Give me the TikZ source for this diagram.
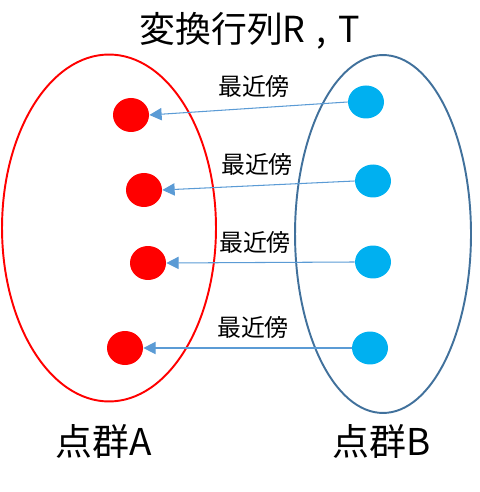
\documentclass[tikz,border=0pt]{standalone}
\usepackage{fontspec}
\setmainfont{Noto Sans CJK JP}
\usepackage{tikz}
\usetikzlibrary{arrows.meta, positioning, shapes.geometric}
\definecolor{ptred}{HTML}{FF0000}
\definecolor{ptblue}{HTML}{00B0F0}
\definecolor{setblue}{HTML}{41719C}
\definecolor{nnblue}{HTML}{5B9BD5}

\begin{document}
\begin{tikzpicture}[x=0.02cm, y=-0.02cm,
    dotA/.style={ellipse, fill=ptred, minimum width=0.72cm, minimum height=0.68cm, inner sep=0pt},
    dotB/.style={ellipse, fill=ptblue, minimum width=0.72cm, minimum height=0.66cm, inner sep=0pt},
    nnarrow/.style={draw=nnblue, line width=0.6pt, -{Triangle[length=7pt, width=7pt]}},
    nnlabel/.style={font=\fontsize{13.6}{16}\selectfont}]
  \useasboundingbox (0,0) rectangle (479,492);

  % Point sets
  \node[ellipse, draw=ptred, line width=1.1pt, minimum width=4.28cm, minimum height=6.94cm] (setA) at (109,228) {};
  \node[ellipse, draw=setblue, line width=1.1pt, minimum width=3.52cm, minimum height=7.16cm] (setB) at (383,234) {};

  % Title
  \node[font=\fontsize{20.4}{24}\selectfont] (title) at (250,31) {変換行列R\hspace{0.3em},\hspace{0.35em}T};

  % Points of A and B, nearest neighbour arrows
  \foreach \i/\ax/\ay/\bx/\by/\lx/\ly in {1/131/115/366/102/254/87,
                                           2/144/190/373/181/257/165,
                                           3/148/263/373/262/255/243,
                                           4/125/348/370/348/253/328} {
    \node[dotA] (a\i) at (\ax,\ay) {};
    \node[dotB] (b\i) at (\bx,\by) {};
    \draw[nnarrow] (b\i.west) -- (a\i.east);
    \node[nnlabel] (nn\i) at (\lx,\ly) {最近傍};
  }

  % Set names
  \node[font=\fontsize{21}{24}\selectfont] (nameA) at (104,441) {点群A};
  \node[font=\fontsize{21}{24}\selectfont] (nameB) at (382,441) {点群B};

\end{tikzpicture}
\end{document}
